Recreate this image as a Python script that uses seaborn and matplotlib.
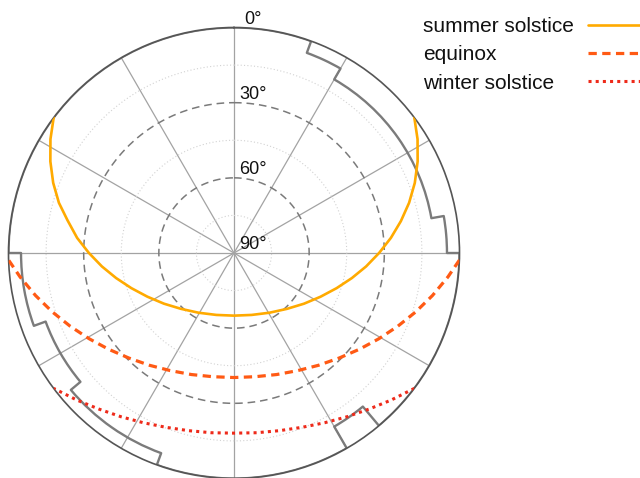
import numpy as np
import matplotlib
matplotlib.use("Agg")
import matplotlib.pyplot as plt
from matplotlib.lines import Line2D
import seaborn as sns

sns.set_style("white")
plt.rcParams["font.family"] = ["Liberation Sans", "DejaVu Sans"]

# Sun paths: azimuth (deg, clockwise from north) and elevation (deg)
summer_az = [53.1, 58.2, 63.5, 68.8, 74.0, 79.2, 84.5, 90.0, 95.8, 102.0,
             108.9, 116.8, 125.9, 136.6, 149.4, 164.1, 180.0,
             195.9, 210.6, 223.4, 234.1, 243.2, 251.1, 258.0, 264.2,
             270.0, 275.5, 281.2, 286.0, 291.2, 296.5, 301.8, 306.9]
summer_el = [0.0, 3.8, 8.1, 12.6, 17.3, 22.2, 27.1, 32.1, 37.0, 41.9,
             46.7, 51.3, 55.5, 59.3, 62.3, 64.3, 65.0,
             64.3, 62.3, 59.3, 55.5, 51.3, 46.7, 41.9, 37.0,
             32.1, 27.1, 22.2, 17.3, 12.6, 8.1, 3.8, 0.0]

equinox_az = [91.8, 96.4, 102.1, 108.0, 114.1, 120.6, 127.5, 135.0, 143.0,
              151.5, 160.7, 170.2, 180.0, 189.8, 199.3, 208.5, 217.0,
              225.0, 232.5, 239.4, 245.9, 252.0, 257.9, 263.6, 268.2]
equinox_el = [0.0, 4.1, 9.0, 13.8, 18.4, 22.8, 26.9, 30.7, 33.9,
              36.6, 38.6, 39.9, 40.3, 39.9, 38.6, 36.6, 33.9,
              30.7, 26.9, 22.8, 18.4, 13.8, 9.0, 4.1, 0.0]

winter_az = [126.9, 133.1, 139.1, 145.4, 151.9, 158.6, 165.6, 172.8, 180.0,
             187.2, 194.4, 201.4, 208.1, 214.6, 220.9, 226.9, 233.1]
winter_el = [0.0, 4.1, 7.6, 10.6, 13.2, 15.3, 16.8, 17.7, 18.1,
             17.7, 16.8, 15.3, 13.2, 10.6, 7.6, 4.1, 0.0]

# Skyline obstruction: azimuth sector edges and elevation within each sector
horizon_edges = [0, 20, 30, 80, 90, 140, 150, 200, 230, 250, 270, 360]
horizon_el = [0, 5, 10, 5, 0, 10, 0, 5, 10, 5, 0]

series_labels = ["summer solstice", "equinox", "winter solstice"]
ring_labels = ["0°", "30°", "60°", "90°"]
ring_elevations = [0, 30, 60, 90]

fig = plt.figure(figsize=(6.4, 4.78), dpi=100)
R_PX = 225.5
ax = fig.add_axes([(234 - R_PX) / 640, (225 - R_PX) / 478,
                   2 * R_PX / 640, 2 * R_PX / 478], projection="polar")
ax.set_theta_zero_location("N")
ax.set_theta_direction(-1)
ax.set_rlim(0, 90)
ax.set_rticks([])
ax.yaxis.grid(False)
ax.set_thetagrids(np.arange(0, 360, 30), labels=[""] * 12)
ax.xaxis.grid(True, color="#a3a3a3", linewidth=0.9)
ax.set_xticks(np.deg2rad(np.arange(0, 360, 10)), minor=True)
ax.tick_params(axis="x", which="both", direction="in", length=5,
               width=0.9, color="#555555", pad=0)
ax.spines["polar"].set_color("#555555")
ax.spines["polar"].set_linewidth(1.2)
ax.set_facecolor("white")

# elevation rings (radius = zenith angle)
circle_t = np.linspace(0, 2 * np.pi, 361)
for zen in (15, 45, 75):
    ax.plot(circle_t, np.full_like(circle_t, zen), color="#d2d2d2",
            lw=0.8, ls=(0, (1, 2)), zorder=1)
for zen in (30, 60):
    ax.plot(circle_t, np.full_like(circle_t, zen), color="#7a7a7a",
            lw=1.1, ls=(0, (5, 3.2)), zorder=1)

# skyline: constant-elevation pieces follow arcs
h_az = np.repeat(horizon_edges, 2)[1:-1]
h_el = np.repeat(horizon_el, 2)
sns.lineplot(x=np.deg2rad(h_az), y=90 - h_el, ax=ax, sort=False,
             estimator=None, color="#7b7b7b", lw=1.7, zorder=2)
ax.lines[-1].get_path()._interpolation_steps = 60

styles = [
    dict(color="#FFAA00", lw=1.9, linestyle="-"),
    dict(color="#FF5A14", lw=2.3, linestyle=(0, (2.6, 1.7))),
    dict(color="#EE2A1A", lw=2.2, linestyle=(0, (1, 1.35))),
]
paths = [(summer_az, summer_el), (equinox_az, equinox_el),
         (winter_az, winter_el)]
for (az, el), st in zip(paths, styles):
    sns.lineplot(x=np.deg2rad(az), y=90 - np.array(el), ax=ax, sort=False,
                 estimator=None, zorder=3, **st)

ax.set_xlabel("")
ax.set_ylabel("")

for lab, el in zip(ring_labels, ring_elevations):
    ax.annotate(lab, xy=(0, 90 - el), xytext=(19, 8.5),
                textcoords="offset pixels", ha="center", va="center",
                fontsize=13, color="#111111", annotation_clip=False)

# key: labels left-aligned, line samples in a column to the right
W, H = 640, 478
for i, (lab, st) in enumerate(zip(series_labels, styles)):
    base_y = 32 + 28.5 * i
    line_y = 25 + 28 * i
    fig.text(423 / W, 1 - base_y / H, lab, fontsize=15, color="#111111",
             ha="left", va="baseline")
    fig.add_artist(Line2D([588 / W, 1.0], [1 - line_y / H] * 2,
                          transform=fig.transFigure, **st))

fig.savefig("out.png", dpi=100)
